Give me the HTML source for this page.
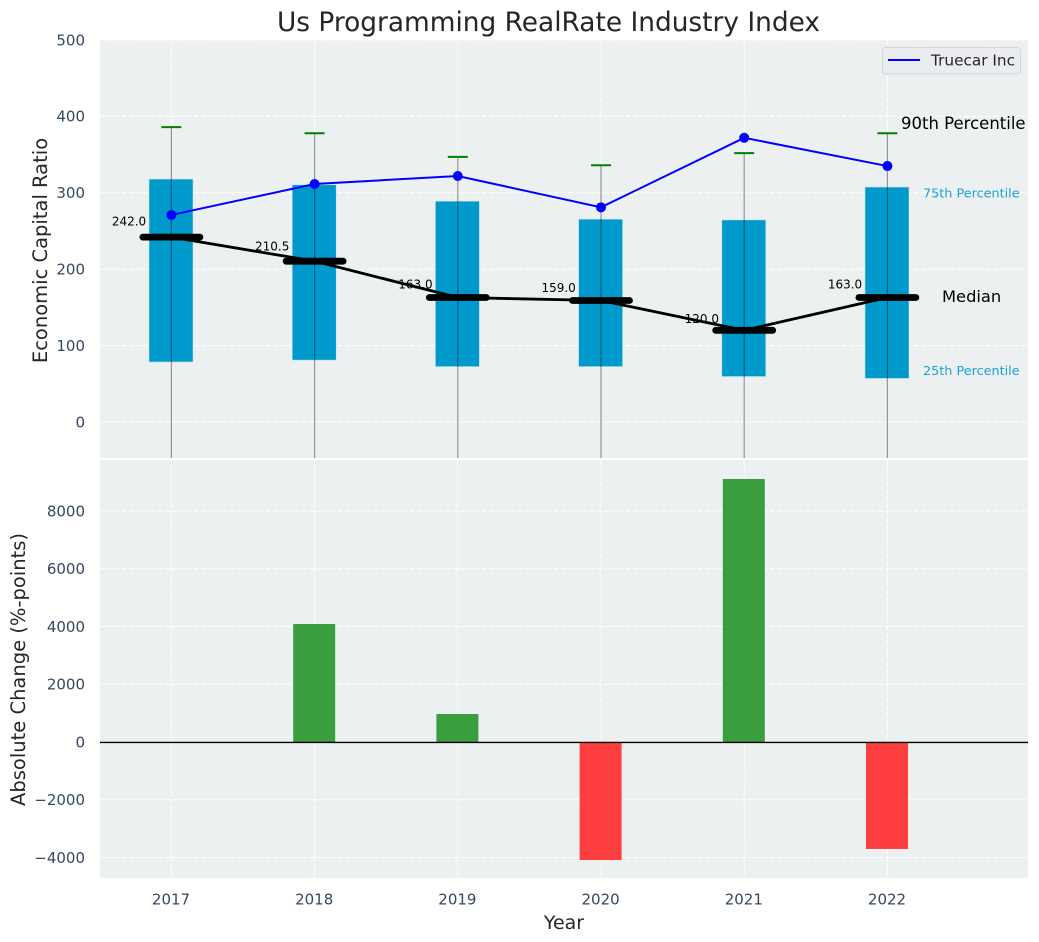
<!DOCTYPE html>
<html>
<head>
<meta charset="utf-8">
<title>Us Programming RealRate Industry Index</title>
<style>
html,body{margin:0;padding:0;background:#fff;}
svg{display:block;font-family:"DejaVu Sans","Liberation Sans",sans-serif;}
</style>
</head>
<body>
<svg id="chart" width="1039" height="942" viewBox="0 0 1039 942" xmlns="http://www.w3.org/2000/svg">
  <defs>
    <clipPath id="top-clip"><rect x="100" y="40" width="928" height="418"/></clipPath>
    <clipPath id="bottom-clip"><rect x="100" y="460" width="928" height="418"/></clipPath>
  </defs>
  <rect width="1039" height="942" fill="#fff"/>
  <text x="548.5" y="31" text-anchor="middle" font-size="26.4px" fill="#262626">Us Programming RealRate Industry Index</text>
  <rect x="100" y="40" width="928" height="418" fill="#ecf0f1"/>
  <rect x="100" y="460" width="928" height="418" fill="#ecf0f1"/>
  <g id="top-grid" clip-path="url(#top-clip)"></g>
  <g id="bottom-grid" clip-path="url(#bottom-clip)"></g>
  <g id="top-marks" clip-path="url(#top-clip)"></g>
  <g id="bottom-marks" clip-path="url(#bottom-clip)"></g>
  <g id="labels"></g>
  <text transform="translate(47,250.5) rotate(-90)" text-anchor="middle" font-size="19.5px" fill="#262626">Economic Capital Ratio</text>
  <text transform="translate(25,669.5) rotate(-90)" text-anchor="middle" font-size="19.5px" fill="#262626">Absolute Change (%-points)</text>
  <text x="564" y="929" text-anchor="middle" font-size="19px" fill="#262626">Year</text>
  <g>
    <rect x="882.5" y="47.5" width="138" height="26.5" rx="3" fill="#eaecf0" stroke="#d4d6da" stroke-width="1"/>
    <line x1="888" y1="60" x2="920" y2="60" stroke="#0000ff" stroke-width="2"/>
    <text x="931" y="65.5" font-size="15.3px" fill="#262626">Truecar Inc</text>
  </g>
</svg>
<script>
const years = [2017, 2018, 2019, 2020, 2021, 2022];
const p90 = [386, 378, 347, 336, 352, 378];
const p75 = [318, 310.5, 289, 265.5, 264.5, 307.5];
const medians = [242, 210.5, 163, 159, 120, 163];
const p25 = [78.5, 81, 72.5, 72.5, 59.5, 57];
const p10 = [-60, -60, -60, -60, -60, -60];
const company = [271, 311.5, 322, 281, 372, 335];
const changes = [0, 4086, 970, -4086, 9108, -3705];
const topTicks = [0, 100, 200, 300, 400, 500];
const bottomTicks = [-4000, -2000, 0, 2000, 4000, 6000, 8000];

const NS = 'http://www.w3.org/2000/svg';
const xScale = function (v) { return 171.4 + (v - 2017) * 143.2; };
const yTop = function (v) { return 422 - v * 0.764; };
const yBottom = function (v) { return 742 - v * 0.028875; };
const make = function (parent, tag, props, text) {
  const el = document.createElementNS(NS, tag);
  Object.keys(props).forEach(function (k) { el.setAttribute(k, props[k]); });
  if (text !== undefined) el.textContent = text;
  parent.appendChild(el);
  return el;
};
const topGrid = document.getElementById('top-grid');
const bottomGrid = document.getElementById('bottom-grid');
const topMarks = document.getElementById('top-marks');
const bottomMarks = document.getElementById('bottom-marks');
const labels = document.getElementById('labels');
const dash = { stroke: '#ffffff', 'stroke-width': 1, 'stroke-dasharray': '5 2.2' };
const tickColor = '#34495e';
const fmt = function (v) { return v < 0 ? '\u2212' + Math.abs(v) : String(v); };

topTicks.forEach(function (t) {
  const y = yTop(t);
  const g = make(topGrid, 'line', Object.assign({ x1: 100, x2: 1028, y1: y, y2: y }, dash));
  
  
  const l = make(labels, 'text', { x: 85, y: y + 5.3, 'text-anchor': 'end', 'font-size': '15px', fill: tickColor }, fmt(t));
  
  
});
bottomTicks.forEach(function (t) {
  const y = yBottom(t);
  const g = make(bottomGrid, 'line', Object.assign({ x1: 100, x2: 1028, y1: y, y2: y }, dash));
  
  
  const l = make(labels, 'text', { x: 85, y: y + 5.3, 'text-anchor': 'end', 'font-size': '15px', fill: tickColor }, fmt(t));
  
  
});
years.forEach(function (yr) {
  const x = xScale(yr);
  const g1 = make(topGrid, 'line', Object.assign({ x1: x, x2: x, y1: 40, y2: 458 }, dash));
  
  
  const g2 = make(bottomGrid, 'line', Object.assign({ x1: x, x2: x, y1: 460, y2: 878 }, dash));
  
  
  const l = make(labels, 'text', { x: x - 0.4, y: 904.5, 'text-anchor': 'middle', 'font-size': '15px', fill: tickColor }, String(yr));
  
  
});

years.forEach(function (yr, i) {
  const x = xScale(yr);
  const box = make(topMarks, 'rect', { x: x - 22.4, width: 44, y: yTop(p75[i]), height: yTop(p25[i]) - yTop(p75[i]), fill: '#0099cc', stroke: '#c4e3ef', 'stroke-width': 0.6 });
  
  
  const whisker = make(topMarks, 'line', { x1: x, x2: x, y1: yTop(p90[i]), y2: yTop(p10[i]), stroke: '#000', 'stroke-opacity': 0.4, 'stroke-width': 1.2 });
  
  
  const cap = make(topMarks, 'line', { x1: x - 10, x2: x + 10, y1: yTop(p90[i]), y2: yTop(p90[i]), stroke: '#008000', 'stroke-width': 2 });
  
  
});

const medianLine = make(topMarks, 'polyline', {
  points: years.map(function (yr, i) { return xScale(yr) + ',' + yTop(medians[i]); }).join(' '),
  fill: 'none', stroke: '#000', 'stroke-width': 2.8
});



years.forEach(function (yr, i) {
  const x = xScale(yr);
  const y = yTop(medians[i]);
  const bar = make(topMarks, 'line', { x1: x - 28.5, x2: x + 28.5, y1: y, y2: y, stroke: '#000', 'stroke-width': 6.8, 'stroke-linecap': 'round' });
  
  
  const t = make(labels, 'text', { x: x - 25.2, y: yTop(medians[i] * 1.048 + 9.4) + 4.3, 'text-anchor': 'end', 'font-size': '12px', fill: '#000' }, medians[i].toFixed(1));
  
  
});

const companyLine = make(topMarks, 'polyline', {
  points: years.map(function (yr, i) { return xScale(yr) + ',' + yTop(company[i]); }).join(' '),
  fill: 'none', stroke: '#0000ff', 'stroke-width': 2
});


years.forEach(function (yr, i) {
  const dot = make(topMarks, 'circle', { cx: xScale(yr), cy: yTop(company[i]), r: 5, fill: '#0000ff' });
  
  
});

years.forEach(function (yr, i) {
  const v = changes[i];
  if (v === 0) return;
  const y0 = yBottom(0);
  const y1 = yBottom(v);
  const bar = make(bottomMarks, 'rect', { x: xScale(yr) - 21.4, width: 42, y: Math.min(y0, y1), height: Math.abs(y1 - y0), fill: v > 0 ? '#3a9d3e' : '#ff3f3f' });
  
  
});
const zero = make(bottomMarks, 'line', { x1: 100, x2: 1028, y1: yBottom(0) + 0.4, y2: yBottom(0) + 0.4, stroke: '#000', 'stroke-width': 1.4 });



const last = years.length - 1;
const lastX = xScale(years[last]);
const a90 = make(labels, 'text', { x: lastX + 13.6, y: yTop(p90[last]) - 4, 'font-size': '16.5px', fill: '#000' }, '90th Percentile');


const a75 = make(labels, 'text', { x: lastX + 35.6, y: yTop(p75[last]) + 10.5, 'font-size': '12.8px', fill: '#1ba3d6' }, '75th Percentile');


const aMed = make(labels, 'text', { x: lastX + 54.6, y: yTop(medians[last]) + 4.5, 'font-size': '16.3px', fill: '#000' }, 'Median');


const a25 = make(labels, 'text', { x: lastX + 35.6, y: yTop(p25[last]) - 3.5, 'font-size': '12.8px', fill: '#1ba3d6' }, '25th Percentile');


</script>
</body>
</html>
